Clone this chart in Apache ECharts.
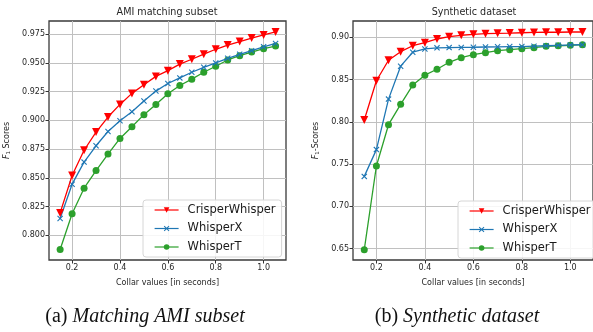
<!DOCTYPE html>
<html><head><meta charset="utf-8">
<script src="https://cdn.jsdelivr.net/npm/echarts@6/dist/echarts.min.js"></script>
<style>html,body{margin:0;padding:0;background:#fff;}#c{width:593px;height:332px;}</style>
</head><body><div id="c"></div>
<script>
// Collar values (seconds)
var collar = [0.15,0.20,0.25,0.30,0.35,0.40,0.45,0.50,0.55,0.60,0.65,0.70,0.75,0.80,0.85,0.90,0.95,1.00,1.05];
// (a) AMI matching subset
var amiCrisper = [0.8195,0.852,0.874,0.8898,0.9029,0.9139,0.9235,0.931,0.9383,0.9433,0.949,0.9532,0.9576,0.9619,0.9656,0.9686,0.9717,0.9744,0.977];
var amiWhisperX = [0.8146,0.8445,0.8637,0.8779,0.8903,0.8997,0.9075,0.9168,0.9255,0.9321,0.937,0.9419,0.9462,0.950,0.954,0.9575,0.9607,0.964,0.967];
var amiWhisperT = [0.7876,0.8187,0.841,0.8563,0.8707,0.8843,0.8945,0.905,0.9139,0.9232,0.9304,0.9359,0.9419,0.9471,0.9526,0.9563,0.9595,0.9624,0.9647];
// (b) Synthetic dataset
var synCrisper = [0.802,0.8485,0.8728,0.883,0.890,0.8936,0.898,0.9007,0.9024,0.9035,0.9043,0.9047,0.905,0.9054,0.9058,0.906,0.906,0.9063,0.9063];
var synWhisperX = [0.7353,0.767,0.8268,0.8658,0.8823,0.8862,0.8875,0.8878,0.888,0.8882,0.8885,0.8887,0.889,0.889,0.8895,0.89,0.8905,0.891,0.8912];
var synWhisperT = [0.6485,0.7476,0.7965,0.8206,0.8434,0.8552,0.8622,0.8704,0.8759,0.8794,0.8818,0.8842,0.8853,0.8865,0.8877,0.8893,0.89,0.8905,0.8913];
// tick labels
var xTicks = [0.2,0.4,0.6,0.8,1.0];
var amiYTicks = [0.800,0.825,0.850,0.875,0.900,0.925,0.950,0.975];
var synYTicks = [0.65,0.70,0.75,0.80,0.85,0.90];
var seriesNames = ['CrisperWhisper','WhisperX','WhisperT'];
var titles = ['AMI matching subset','Synthetic dataset'];

var FONT = 'DejaVu Sans';
var xMark = 'path://M0,1.3L1.3,0L5,3.7L8.7,0L10,1.3L6.3,5L10,8.7L8.7,10L5,6.3L1.3,10L0,8.7L3.7,5Z';
var styles = [
  {color:'#ff0000', symbol:'triangle', rotate:180, size:8},
  {color:'#1f77b4', symbol:xMark, rotate:0, size:6},
  {color:'#2ca02c', symbol:'circle', rotate:0, size:7}
];
function pairs(ys){ return collar.map(function(x,i){return [x, ys[i]];}); }
function mkSeries(idx, data){
  return data.map(function(ys,k){
    var s = styles[k];
    return {
      name: seriesNames[k], type:'line', xAxisIndex: idx, yAxisIndex: idx,
      data: pairs(ys), symbol: s.symbol, symbolSize: s.size, symbolRotate: s.rotate,
      showAllSymbol: true, animation:false,
      lineStyle:{color:s.color, width:1.3}, itemStyle:{color:s.color},
      z: 3 - k
    };
  });
}
function xAx(idx, min, max){
  return {
    type:'value', gridIndex: idx, min:min, max:max,
    name:'Collar values [in seconds]', nameLocation:'middle', nameGap:19,
    nameTextStyle:{fontFamily:FONT, fontSize:8, color:'#262626'},
    axisLine:{show:false},
    axisTick:{show:true, length:3.5, inside:false, customValues:xTicks, lineStyle:{color:'#333'}},
    axisLabel:{customValues:xTicks, fontFamily:FONT, fontSize:8, color:'#262626', margin:4,
      formatter:function(v){return v.toFixed(1);}},
    splitLine:{show:true, lineStyle:{color:'#c0c0c0', width:1}}
  };
}
function yAx(idx, min, max, ticks, dec, nm, gap){
  return {
    type:'value', gridIndex: idx, min:min, max:max,
    name: nm, nameLocation:'middle', nameGap:gap, nameRotate:90,
    nameTextStyle:{fontFamily:FONT, fontSize:8, color:'#262626',
      rich:{f:{fontFamily:FONT, fontSize:8, fontStyle:'italic', color:'#262626'},
            s:{fontFamily:FONT, fontSize:5.5, color:'#262626', padding:[4,0,0,0]},
            t:{fontFamily:FONT, fontSize:8, color:'#262626'}}},
    axisLine:{show:false},
    axisTick:{show:true, length:3.5, customValues:ticks, lineStyle:{color:'#333'}},
    axisLabel:{customValues:ticks, fontFamily:FONT, fontSize:8, color:'#262626', margin:4,
      formatter:function(v){return v.toFixed(dec);}},
    splitLine:{show:true, lineStyle:{color:'#c0c0c0', width:1}}
  };
}
function legend(left, top){
  return {
    data: seriesNames, orient:'vertical', left:left, top:top,
    itemWidth:24, itemHeight:7, itemGap:6.5,
    padding:[4,6,4,11],
    borderColor:'#d6d6d6', borderWidth:1, borderRadius:3,
    backgroundColor:'rgba(255,255,255,0.85)',
    lineStyle:{width:1.2},
    textStyle:{fontFamily:FONT, fontSize:11.5, color:'#1a1a1a', padding:[0,0,0,4], lineHeight:11},
    selectedMode:false
  };
}
var capRich = {
  n:{fontFamily:'Liberation Serif', fontSize:20, fontWeight:'normal', color:'#111'},
  i:{fontFamily:'Liberation Serif', fontSize:20, fontStyle:'italic', fontWeight:'normal', color:'#111'}
};
var chart = echarts.init(document.getElementById('c'), null, {renderer:'canvas'});
chart.setOption({
  backgroundColor:'#ffffff',
  animation:false,
  title:[
    {text:titles[0], left:167, top:7, padding:0, textAlign:'center', textStyle:{fontFamily:FONT, fontSize:9.6, fontWeight:'normal', color:'#262626'}},
    {text:titles[1], left:474, top:7, padding:0, textAlign:'center', textStyle:{fontFamily:FONT, fontSize:9.6, fontWeight:'normal', color:'#262626'}},
    {text:'{n|(a) }{i|Matching AMI subset}', left:145, top:307, padding:0, textAlign:'center',
      textStyle:{fontWeight:'normal', rich:capRich}},
    {text:'{n|(b) }{i|Synthetic dataset}', left:457, top:307, padding:0, textAlign:'center',
      textStyle:{fontWeight:'normal', rich:capRich}}
  ],
  grid:[
    {left:49, top:21, width:237, height:239, show:true, borderColor:'#3a3a3a', borderWidth:1.3, backgroundColor:'transparent'},
    {left:353, top:21, width:242, height:239, show:true, borderColor:'#3a3a3a', borderWidth:1.3, backgroundColor:'transparent'}
  ],
  xAxis:[ xAx(0, 0.1035, 1.0935), xAx(1, 0.1035, 1.0935) ],
  yAxis:[
    yAx(0, 0.7785, 0.9865, amiYTicks, 3, '{f|F}{s|1}{t| Scores}', 37),
    yAx(1, 0.6363, 0.9193, synYTicks, 2, '{f|F}{s|1}{t|-Scores}', 32)
  ],
  legend:[ legend(143, 200), legend(458, 201) ],
  series: mkSeries(0, [amiCrisper, amiWhisperX, amiWhisperT]).concat(mkSeries(1, [synCrisper, synWhisperX, synWhisperT]))
});
</script></body></html>
